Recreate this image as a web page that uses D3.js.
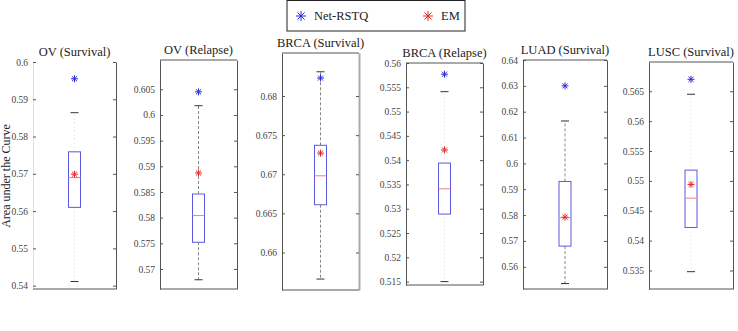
<!DOCTYPE html>
<html>
<head>
<meta charset="utf-8">
<script src="https://cdn.jsdelivr.net/npm/d3@7"></script>
<style>
  body { margin: 0; background: #fff; }
  text { font-family: "Liberation Serif", "Times New Roman", serif; }
</style>
</head>
<body>
<div id="chart"></div>
<script>
// Datos
// ========================
var titles = ["OV (Survival)", "OV (Relapse)", "BRCA (Survival)", "BRCA (Relapse)", "LUAD (Survival)", "LUSC (Survival)"];

// [min, max] del eje de cada panel
var domains = [[0.5391, 0.6], [0.5661, 0.6107], [0.6552, 0.6855], [0.5143, 0.56], [0.5514, 0.64], [0.5319, 0.5699]];

// boxplot: whisker bajo, q1, mediana, q3, whisker alto
var whiskerLow  = [0.5411, 0.5679, 0.6566, 0.5150, 0.5535, 0.5348];
var q1          = [0.5610, 0.5752, 0.6661, 0.5289, 0.5680, 0.5422];
var median      = [0.5690, 0.5804, 0.6698, 0.5341, 0.5790, 0.5471];
var q3          = [0.5759, 0.5846, 0.6737, 0.5394, 0.5930, 0.5518];
var whiskerHigh = [0.5864, 0.6018, 0.6831, 0.5541, 0.6164, 0.5645];

var netRSTQ = [0.5955, 0.6045, 0.6823, 0.5577, 0.6300, 0.5670];
var em      = [0.5699, 0.5887, 0.6727, 0.5421, 0.5792, 0.5494];

var ticks = [
  ["0.54", "0.55", "0.56", "0.57", "0.58", "0.59", "0.6"],
  ["0.57", "0.575", "0.58", "0.585", "0.59", "0.595", "0.6", "0.605"],
  ["0.66", "0.665", "0.67", "0.675", "0.68"],
  ["0.515", "0.52", "0.525", "0.53", "0.535", "0.54", "0.545", "0.55", "0.555", "0.56"],
  ["0.56", "0.57", "0.58", "0.59", "0.6", "0.61", "0.62", "0.63", "0.64"],
  ["0.535", "0.54", "0.545", "0.55", "0.555", "0.56", "0.565"]
];

// Posicion de cada panel en la figura
// ===================================
var layout = [
  { x0: 33,  x1: 116, top: 62, bottom: 289, frameTop: false, dashed: false },
  { x0: 160, x1: 237, top: 60, bottom: 289, frameTop: true,  dashed: true },
  { x0: 282, x1: 359, top: 53, bottom: 290, frameTop: true,  dashed: true },
  { x0: 406, x1: 483, top: 63, bottom: 285, frameTop: true,  dashed: false },
  { x0: 523, x1: 607, top: 60, bottom: 289, frameTop: true,  dashed: true },
  { x0: 649, x1: 733, top: 62, bottom: 289, frameTop: true,  dashed: false }
];

var width = 738, height = 331;
var blue = "#2b2bdb", red = "#e22a2a";

var svg = d3.select("#chart")
  .append("svg")
  .attr("width", width)
  .attr("height", height);

// marcador asterisco (+ y x)
function star(g, cx, cy, color, r) {
  var d = r * 0.72;
  g.append("path")
    .attr("d", "M" + (cx - r) + "," + cy + "H" + (cx + r) +
               "M" + cx + "," + (cy - r) + "V" + (cy + r) +
               "M" + (cx - d) + "," + (cy - d) + "L" + (cx + d) + "," + (cy + d) +
               "M" + (cx - d) + "," + (cy + d) + "L" + (cx + d) + "," + (cy - d))
    .attr("stroke", color)
    .attr("stroke-width", 1)
    .attr("fill", "none");
}

titles.forEach(function(t, i) {
  var L = layout[i];
  var g = svg.append("g");

  var y = d3.scaleLinear().domain(domains[i]).range([L.bottom, L.top]);
  var cx = (L.x0 + L.x1) / 2;
  var bw = 12;

  // Ejes
  var tv = ticks[i].map(Number);
  g.append("g")
    .attr("transform", "translate(" + L.x0 + ",0)")
    .call(d3.axisLeft(y).tickValues(tv).tickFormat(function(d, k) { return ticks[i][k]; })
      .tickSizeInner(-3).tickSizeOuter(0).tickPadding(5))
    .call(function(a) {
      a.select(".domain").attr("stroke", i == 0 ? "#ddd" : "#555");
      a.selectAll(".tick line").attr("stroke", "#555");
      a.selectAll("text").attr("font-size", 9.5).attr("fill", "#444")
        .attr("font-family", "'Liberation Serif', serif");
    });
  g.append("g")
    .attr("transform", "translate(" + L.x1 + ",0)")
    .call(d3.axisRight(y).tickValues(tv).tickFormat("").tickSizeInner(-3).tickSizeOuter(0))
    .call(function(a) {
      a.select(".domain").attr("stroke", i == 2 ? "#aaa" : "#555").attr("stroke-width", i == 2 ? 2 : 1);
      a.selectAll(".tick line").attr("stroke", "#555");
    });
  g.append("line")
    .attr("x1", L.x0).attr("x2", L.x1).attr("y1", L.bottom).attr("y2", L.bottom)
    .attr("stroke", "#555");
  if (L.frameTop) {
    g.append("line")
      .attr("x1", L.x0).attr("x2", L.x1).attr("y1", L.top).attr("y2", L.top)
      .attr("stroke", "#555");
  }

  // titulo
  g.append("text")
    .attr("x", cx).attr("y", L.top - 6)
    .attr("text-anchor", "middle")
    .attr("font-size", 12.5)
    .attr("fill", "#222")
    .text(t);

  // whiskers
  var wStroke = L.dashed ? "#888" : "#ddd";
  var wDash = L.dashed ? "3,2" : "1,3";
  g.append("line")
    .attr("x1", cx).attr("x2", cx).attr("y1", y(q3[i])).attr("y2", y(whiskerHigh[i]))
    .attr("stroke", wStroke).attr("stroke-dasharray", wDash);
  g.append("line")
    .attr("x1", cx).attr("x2", cx).attr("y1", y(q1[i])).attr("y2", y(whiskerLow[i]))
    .attr("stroke", wStroke).attr("stroke-dasharray", wDash);
  [whiskerLow[i], whiskerHigh[i]].forEach(function(v) {
    g.append("line")
      .attr("x1", cx - 4).attr("x2", cx + 4).attr("y1", y(v)).attr("y2", y(v))
      .attr("stroke", "#333");
  });

  // caja
  g.append("rect")
    .attr("x", cx - bw / 2).attr("width", bw)
    .attr("y", y(q3[i])).attr("height", y(q1[i]) - y(q3[i]))
    .attr("fill", "none").attr("stroke", "#5a5ae0");
  g.append("line")
    .attr("x1", cx - bw / 2).attr("x2", cx + bw / 2)
    .attr("y1", y(median[i])).attr("y2", y(median[i]))
    .attr("stroke", "#f08080");

  star(g, cx, y(netRSTQ[i]), blue, 3.5);
  star(g, cx, y(em[i]), red, 3.5);
});

// Etiqueta eje Y
svg.append("text")
  .attr("transform", "translate(10,176) rotate(-90)")
  .attr("text-anchor", "middle")
  .attr("font-size", 12)
  .attr("fill", "#222")
  .text("Area under the Curve");

// Leyenda
var leg = svg.append("g");
leg.append("rect")
  .attr("x", 287).attr("y", 0.5).attr("width", 178).attr("height", 30.5)
  .attr("fill", "#fff").attr("stroke", "#222");
star(leg, 301, 16, blue, 5);
leg.append("text").attr("x", 314).attr("y", 20).attr("font-size", 12.5).attr("fill", "#222").text("Net-RSTQ");
star(leg, 428, 16, red, 5);
leg.append("text").attr("x", 441).attr("y", 20).attr("font-size", 12.5).attr("fill", "#222").text("EM");
</script>
</body>
</html>
